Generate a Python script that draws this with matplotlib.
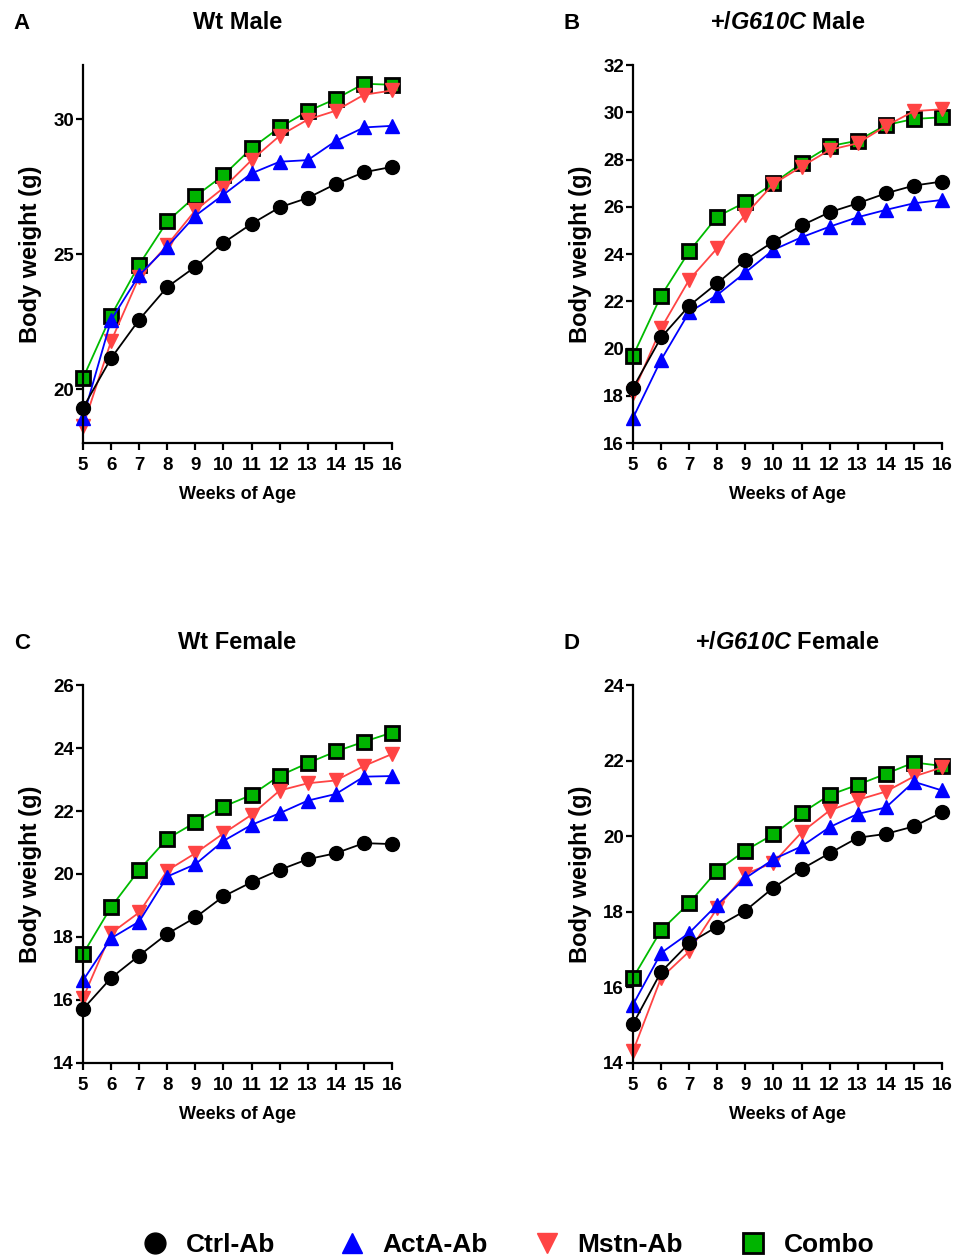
import numpy as np
import matplotlib.pyplot as plt
from matplotlib.lines import Line2D

plt.rcParams['font.family'] = ['Liberation Sans', 'DejaVu Sans']
plt.rcParams['font.weight'] = 'bold'
plt.rcParams['mathtext.fontset'] = 'custom'
plt.rcParams['mathtext.bfit'] = 'Liberation Sans:bold:italic'

weeks = np.arange(5, 17)

# panel A: Wt male
a_ctrl = [19.30, 21.14, 22.57, 23.78, 24.53, 25.42, 26.12, 26.73, 27.08, 27.60, 28.03, 28.23]
a_acta = [18.93, 22.56, 24.22, 25.27, 26.42, 27.20, 27.99, 28.42, 28.48, 29.19, 29.69, 29.75]
a_mstn = [18.62, 21.77, 24.15, 25.34, 26.62, 27.45, 28.48, 29.38, 29.98, 30.31, 30.90, 31.06]
a_combo = [20.40, 22.72, 24.61, 26.21, 27.14, 27.92, 28.92, 29.69, 30.29, 30.75, 31.31, 31.27]

# panel B: +/G610C male
b_ctrl = [18.33, 20.47, 21.81, 22.77, 23.75, 24.53, 25.21, 25.77, 26.15, 26.57, 26.90, 27.07]
b_acta = [17.06, 19.52, 21.54, 22.27, 23.22, 24.18, 24.71, 25.16, 25.56, 25.87, 26.15, 26.29]
b_mstn = [18.11, 20.86, 22.91, 24.25, 25.66, 26.97, 27.70, 28.41, 28.69, 29.42, 30.05, 30.13]
b_combo = [19.69, 22.23, 24.11, 25.59, 26.19, 27.00, 27.84, 28.57, 28.80, 29.46, 29.72, 29.79]

# panel C: Wt female
c_ctrl = [15.71, 16.70, 17.41, 18.10, 18.62, 19.29, 19.74, 20.13, 20.47, 20.66, 20.98, 20.95]
c_acta = [16.62, 17.96, 18.49, 19.92, 20.31, 21.05, 21.56, 21.93, 22.33, 22.54, 23.09, 23.11]
c_mstn = [16.06, 18.12, 18.78, 20.11, 20.66, 21.29, 21.88, 22.65, 22.88, 22.97, 23.43, 23.81]
c_combo = [17.46, 18.95, 20.13, 21.12, 21.64, 22.14, 22.51, 23.12, 23.52, 23.89, 24.20, 24.49]

# panel D: +/G610C female
d_ctrl = [15.03, 16.41, 17.17, 17.61, 18.03, 18.64, 19.13, 19.55, 19.96, 20.06, 20.26, 20.63]
d_acta = [15.54, 16.91, 17.44, 18.19, 18.89, 19.39, 19.73, 20.24, 20.59, 20.76, 21.44, 21.21]
d_mstn = [14.31, 16.25, 16.95, 18.10, 19.00, 19.30, 20.10, 20.68, 20.96, 21.18, 21.58, 21.82]
d_combo = [16.25, 17.51, 18.23, 19.09, 19.62, 20.05, 20.61, 21.09, 21.36, 21.65, 21.95, 21.86]

groups = ['Ctrl-Ab', 'ActA-Ab', 'Mstn-Ab', 'Combo']
styles = {
    'Ctrl-Ab': dict(color='black', marker='o', mfc='black', mec='black', ms=10),
    'ActA-Ab': dict(color='#0000ff', marker='^', mfc='#0000ff', mec='#0000ff', ms=10),
    'Mstn-Ab': dict(color='#ff4444', marker='v', mfc='#ff4444', mec='#ff4444', ms=10),
    'Combo': dict(color='#00bb00', marker='s', mfc='#00b400', mec='black', ms=10, mew=2),
}

panels = [
    ('A', 'Wt Male', [a_ctrl, a_acta, a_mstn, a_combo], (18, 32), [20, 25, 30]),
    ('B', r'+/$\mathbfit{G610C}$ Male', [b_ctrl, b_acta, b_mstn, b_combo], (16, 32), np.arange(16, 33, 2)),
    ('C', 'Wt Female', [c_ctrl, c_acta, c_mstn, c_combo], (14, 26), np.arange(14, 27, 2)),
    ('D', r'+/$\mathbfit{G610C}$ Female', [d_ctrl, d_acta, d_mstn, d_combo], (14, 24), np.arange(14, 25, 2)),
]

fig = plt.figure(figsize=(9.55, 12.59), dpi=100)
rects = [(0.0869, 0.6481), (0.6628, 0.6481), (0.0869, 0.1557), (0.6628, 0.1557)]
w, h = 0.3236, 0.3002

for (letter, title, data, ylim, yticks), (x0, y0) in zip(panels, rects):
    ax = fig.add_axes([x0, y0, w, h])
    # later groups first so Ctrl-Ab sits on top
    for name, vals in reversed(list(zip(groups, data))):
        ax.plot(weeks, vals, lw=1.3, clip_on=False, **styles[name])
    ax.set_xlim(5, 16)
    ax.set_ylim(*ylim)
    ax.set_xticks(weeks)
    ax.set_yticks(yticks)
    ax.tick_params(width=1.6, length=5, labelsize=13.5, pad=1.5)
    ax.tick_params(axis='x', pad=5)
    for s in ['top', 'right']:
        ax.spines[s].set_visible(False)
    for s in ['left', 'bottom']:
        ax.spines[s].set_linewidth(1.6)
    ax.set_xlabel('Weeks of Age', fontsize=13, fontweight='bold', labelpad=9)
    ax.set_ylabel('Body weight (g)', fontsize=17, fontweight='bold', labelpad=8)
    for lab in ax.get_xticklabels() + ax.get_yticklabels():
        lab.set_fontweight('bold')
    bb = ax.get_position()
    fig.text(bb.x0 + bb.width / 2, bb.y1 + 0.034, title, ha='center', va='center',
             fontsize=17, fontweight='bold')
    fig.text(bb.x0 - 0.064, bb.y1 + 0.033, letter, ha='center', va='center',
             fontsize=16, fontweight='bold')

# legend entries placed one by one along the bottom
legend_x = [0.146, 0.352, 0.556, 0.772]
for g, lx in zip(groups, legend_x):
    st = {k: v for k, v in styles[g].items() if k != 'color'}
    st['ms'] = 15
    hd = Line2D([], [], ls='none', **st)
    fig.legend([hd], [g], loc='center left', bbox_to_anchor=(lx, 0.011),
               frameon=False, prop=dict(size=19, weight='bold'), handletextpad=0.55,
               handlelength=1.2, borderpad=0, borderaxespad=0)

fig.savefig('out.png', dpi=100)
